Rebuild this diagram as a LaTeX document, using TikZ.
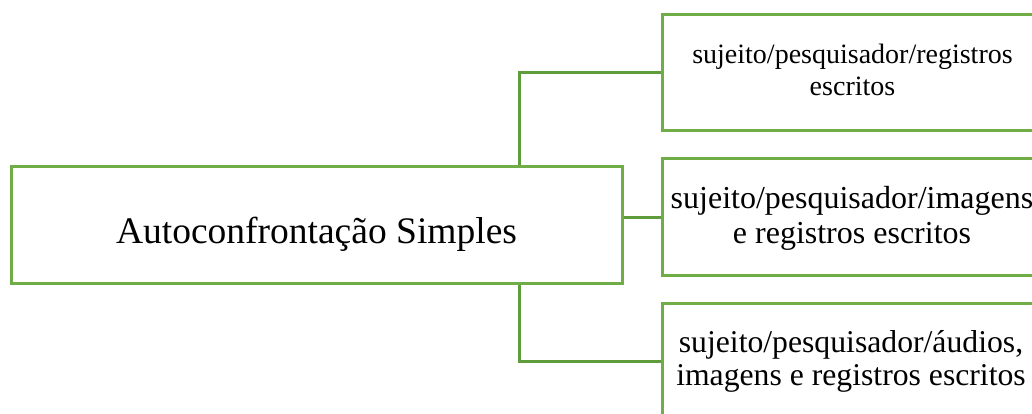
\documentclass[tikz,border=0pt]{standalone}
\usepackage{fontspec}
\setmainfont{Liberation Serif}
\definecolor{boxgreen}{HTML}{70AD47}
\definecolor{linegreen}{HTML}{5F9D3C}
\tikzset{
  gbox/.style={draw=boxgreen, line width=3pt, rectangle, inner sep=0pt, minimum height=116pt},
  rbox/.style={gbox, minimum width=380pt},
  conn/.style={draw=linegreen, line width=3pt},
  lbl/.style={anchor=base, align=center, inner sep=0pt}
}
\begin{document}
\begin{tikzpicture}[x=1pt,y=-1pt]
\useasboundingbox (0,0) rectangle (1032,414);
\clip (0,0) rectangle (1032,414);
\node[gbox, minimum width=611pt] (main) at (316.5,225) {};
\node[rbox] (b1) at (852,73) {};
\node[rbox] (b2) at (852,217) {};
\node[rbox] (b3) at (852,361) {};
\node[lbl, font=\fontsize{37.5}{40}\selectfont] (tmain) at (316.5,243) {Autoconfrontação Simples};
\node[lbl, font=\fontsize{28}{32}\selectfont] (t1) at (852.5,96) {sujeito/pesquisador/registros\\escritos};
\node[lbl, font=\fontsize{32}{35}\selectfont] (t2) at (852,243) {sujeito/pesquisador/imagens\\e registros escritos};
\node[lbl, font=\fontsize{31.7}{33}\selectfont] (t3) at (851,385) {sujeito/pesquisador/áudios,\\imagens e registros escritos};
\coordinate (vx) at (519,0);
\draw[conn] (main.north -| vx) |- (b1.west);
\draw[conn] (main.east |- b2.west) -- (b2.west);
\draw[conn] (main.south -| vx) |- (b3.west);
\end{tikzpicture}
\end{document}
